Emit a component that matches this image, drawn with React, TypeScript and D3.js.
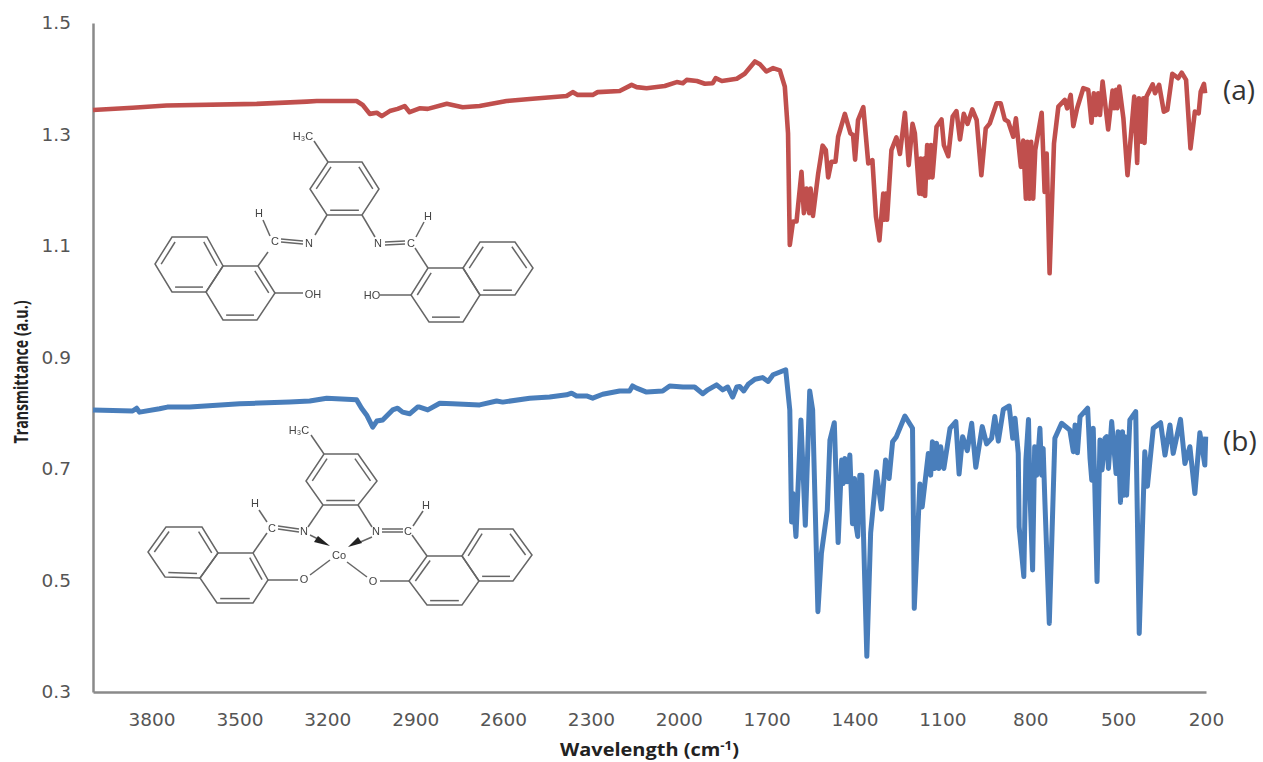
import { useEffect, useRef } from "react";
import * as d3 from "d3";

type Pt = [number, number];

const xTicks = [3800, 3500, 3200, 2900, 2600, 2300, 2000, 1700, 1400, 1100, 800, 500, 200];
const yTicks = [0.3, 0.5, 0.7, 0.9, 1.1, 1.3, 1.5];

// [wavenumber, transmittance]
const ligandSpectrum: Pt[] = [
  [4000, 1.344], [3865, 1.348], [3749, 1.352], [3441, 1.355], [3270, 1.359], [3236, 1.36], [3100, 1.36], [3079, 1.353],
  [3055, 1.337], [3031, 1.339], [3014, 1.333], [2987, 1.342], [2960, 1.346], [2936, 1.351], [2919, 1.34], [2885, 1.347],
  [2857, 1.346], [2792, 1.355], [2738, 1.349], [2680, 1.351], [2588, 1.36], [2499, 1.364], [2383, 1.369], [2362, 1.376],
  [2345, 1.371], [2294, 1.371], [2277, 1.376], [2202, 1.378], [2161, 1.389], [2144, 1.385], [2110, 1.383], [2048, 1.387],
  [2007, 1.394], [1986, 1.392], [1973, 1.398], [1938, 1.396], [1911, 1.391], [1884, 1.392], [1874, 1.401], [1853, 1.396],
  [1802, 1.4], [1775, 1.409], [1740, 1.431], [1723, 1.426],
  [1701, 1.413], [1678, 1.419], [1655, 1.415], [1638, 1.386], [1627, 1.302], [1621, 1.102], [1610, 1.144], [1598, 1.144],
  [1581, 1.233], [1573, 1.159], [1564, 1.203], [1555, 1.159], [1550, 1.203], [1542, 1.154], [1524, 1.23], [1509, 1.28], [1498, 1.272], [1490, 1.223],
  [1479, 1.251], [1465, 1.251], [1456, 1.296], [1433, 1.337], [1414, 1.302], [1405, 1.299], [1398, 1.255], [1388, 1.326],
  [1370, 1.349], [1353, 1.248], [1339, 1.254], [1327, 1.153], [1315, 1.11], [1302, 1.194], [1298, 1.147], [1293, 1.194], [1289, 1.147],
  [1274, 1.272], [1257, 1.295], [1245, 1.265], [1228, 1.339], [1215, 1.245], [1202, 1.319], [1194, 1.302], [1179, 1.194],
  [1174, 1.257], [1168, 1.193], [1162, 1.257], [1159, 1.19], [1152, 1.281], [1145, 1.223], [1139, 1.281], [1134, 1.223], [1120, 1.314], [1103, 1.327], [1095, 1.281], [1080, 1.261],
  [1065, 1.332], [1052, 1.342], [1040, 1.291], [1027, 1.337], [1014, 1.319], [998, 1.345], [983, 1.326], [967, 1.227],
  [952, 1.311], [938, 1.32], [915, 1.356], [901, 1.356], [887, 1.327], [875, 1.323], [858, 1.296], [849, 1.329],
  [832, 1.242], [824, 1.289], [815, 1.185], [810, 1.287], [803, 1.185], [797, 1.287], [790, 1.185], [783, 1.272], [761, 1.339], [751, 1.197], [744, 1.266],
  [734, 1.051], [719, 1.284], [704, 1.35], [682, 1.362], [674, 1.347], [662, 1.371], [653, 1.315], [640, 1.347],
  [619, 1.383], [602, 1.38], [591, 1.321], [583, 1.374], [576, 1.335], [568, 1.374], [562, 1.335], [553, 1.395], [534, 1.309], [519, 1.379],
  [514, 1.347], [507, 1.38], [503, 1.347], [496, 1.386], [482, 1.329], [468, 1.227], [445, 1.368], [435, 1.249], [429, 1.365], [420, 1.287], [414, 1.365], [410, 1.285],
  [403, 1.368], [382, 1.39], [374, 1.374], [360, 1.389], [344, 1.341], [332, 1.344], [315, 1.409], [295, 1.401],
  [283, 1.411], [268, 1.398], [253, 1.275], [238, 1.341], [225, 1.338], [218, 1.377], [207, 1.391], [203, 1.374],
];

const complexSpectrum: Pt[] = [
  [4000, 0.806], [3865, 0.804], [3851, 0.809], [3841, 0.802], [3773, 0.808], [3746, 0.811], [3670, 0.811], [3499, 0.817],
  [3329, 0.82], [3260, 0.822], [3202, 0.827], [3100, 0.824], [3083, 0.809], [3066, 0.797], [3045, 0.775], [3031, 0.786],
  [3011, 0.788], [2977, 0.806], [2960, 0.809], [2943, 0.802], [2919, 0.799], [2892, 0.811], [2885, 0.811], [2857, 0.806],
  [2816, 0.818], [2772, 0.817], [2680, 0.815], [2622, 0.822], [2601, 0.82], [2509, 0.827], [2441, 0.829], [2383, 0.833],
  [2366, 0.836], [2349, 0.831], [2315, 0.831], [2294, 0.827], [2260, 0.834], [2202, 0.84], [2168, 0.84], [2158, 0.849],
  [2144, 0.845], [2110, 0.838], [2055, 0.84], [2031, 0.849], [1986, 0.847], [1946, 0.847], [1918, 0.835], [1901, 0.842],
  [1871, 0.851], [1850, 0.842], [1833, 0.847], [1816, 0.829], [1802, 0.847], [1792, 0.848], [1778, 0.84], [1763, 0.852], [1740, 0.861], [1714, 0.864], [1695, 0.857], [1678, 0.869],
  [1635, 0.878], [1621, 0.806], [1615, 0.605], [1610, 0.656], [1600, 0.579], [1583, 0.788], [1568, 0.599], [1553, 0.84],
  [1543, 0.806], [1525, 0.444], [1513, 0.549], [1493, 0.626], [1484, 0.752], [1469, 0.783], [1456, 0.568], [1444, 0.716],
  [1439, 0.674], [1433, 0.719], [1425, 0.677], [1416, 0.725], [1407, 0.602], [1400, 0.683], [1396, 0.602], [1389, 0.579], [1382, 0.689], [1375, 0.689], [1358, 0.364], [1345, 0.585],
  [1325, 0.695], [1308, 0.628], [1294, 0.716], [1282, 0.683], [1270, 0.749], [1257, 0.758], [1228, 0.795], [1202, 0.773],
  [1196, 0.45], [1177, 0.673], [1169, 0.632], [1148, 0.728], [1140, 0.689], [1134, 0.749], [1126, 0.701], [1120, 0.746], [1112, 0.701], [1106, 0.74],
  [1095, 0.701], [1074, 0.773], [1054, 0.785], [1043, 0.691], [1031, 0.758], [1015, 0.733], [1000, 0.782], [986, 0.703],
  [964, 0.776], [949, 0.745], [932, 0.755], [921, 0.794], [909, 0.75], [892, 0.807], [872, 0.813], [860, 0.755],
  [852, 0.791], [841, 0.728], [838, 0.596], [822, 0.507], [815, 0.716], [806, 0.789], [801, 0.656], [792, 0.519], [785, 0.74], [778, 0.689], [767, 0.773], [761, 0.689], [756, 0.737],
  [750, 0.641], [735, 0.423], [716, 0.755], [693, 0.782], [665, 0.77], [653, 0.731], [647, 0.779], [639, 0.729],
  [630, 0.794], [604, 0.809], [596, 0.719], [590, 0.68], [585, 0.773], [580, 0.677], [572, 0.498], [562, 0.752], [555, 0.698], [545, 0.755], [539, 0.758], [533, 0.701],
  [522, 0.785], [507, 0.692], [500, 0.767], [492, 0.64], [485, 0.767], [480, 0.653], [476, 0.758], [471, 0.653], [460, 0.788], [440, 0.803],
  [428, 0.405], [409, 0.731], [400, 0.669], [380, 0.773], [355, 0.783], [340, 0.725], [323, 0.779], [312, 0.728],
  [287, 0.789], [272, 0.71], [255, 0.74], [238, 0.656], [221, 0.765], [204, 0.707], [201, 0.758],
];

// inset structures, pixel positions of the two drawn molecules
const ligandRings: { pts: Pt[]; doubles: number[] }[] = [
  { pts: [[328, 162], [362, 162], [379, 189], [362, 215], [327, 215], [310, 189]], doubles: [1, 3, 5] },
  { pts: [[172, 237], [207, 237], [223, 266], [206, 292], [172, 292], [155, 264]], doubles: [1, 3, 5] },
  { pts: [[223, 266], [258, 266], [275, 293], [257, 320], [223, 320], [206, 292]], doubles: [1, 3] },
  { pts: [[428, 268], [463, 268], [480, 295], [463, 322], [429, 322], [411, 295]], doubles: [3, 5] },
  { pts: [[463, 268], [480, 242], [515, 242], [533, 268], [515, 295], [480, 295]], doubles: [0, 2, 4] },
];
const ligandBonds: [Pt, Pt][] = [
  [[328, 162], [314, 141]], [[327, 215], [315, 235]], [[362, 215], [375, 237]],
  [[268, 252], [258, 266]], [[415, 248], [428, 268]], [[275, 293], [303, 293]],
  [[380, 295], [411, 295]], [[263, 220], [270, 236]], [[424, 222], [416, 237]],
  [[281, 239], [303, 241]], [[281, 242], [303, 244]], [[385, 242], [405, 241]], [[385, 245], [405, 244]],
];
const ligandLabels: { text: string; at: Pt }[] = [
  { text: "H₃C", at: [303, 136] }, { text: "H", at: [259, 213] }, { text: "H", at: [428, 216] },
  { text: "C", at: [275, 241] }, { text: "N", at: [309, 243] }, { text: "N", at: [378, 243] },
  { text: "C", at: [411, 243] }, { text: "OH", at: [313, 294] }, { text: "HO", at: [372, 295] },
];

const complexRings: { pts: Pt[]; doubles: number[] }[] = [
  { pts: [[324, 454], [358, 454], [377, 481], [358, 505], [323, 505], [306, 481]], doubles: [1, 3, 5] },
  { pts: [[166, 527], [202, 527], [218, 553], [200, 578], [165, 577], [148, 552]], doubles: [1, 3, 5] },
  { pts: [[218, 553], [253, 553], [268, 580], [253, 603], [217, 603], [200, 578]], doubles: [1, 3] },
  { pts: [[427, 556], [462, 556], [479, 581], [462, 605], [427, 605], [409, 581]], doubles: [3, 5] },
  { pts: [[462, 556], [479, 529], [513, 529], [532, 555], [513, 581], [479, 581]], doubles: [0, 2, 4] },
];
const complexBonds: [Pt, Pt][] = [
  [[324, 454], [311, 435]], [[323, 505], [308, 527]], [[358, 505], [372, 527]],
  [[267, 533], [253, 553]], [[412, 535], [427, 556]], [[268, 580], [298, 580]],
  [[380, 581], [409, 581]], [[310, 575], [330, 560]], [[347, 562], [367, 577]],
  [[259, 510], [267, 522]], [[423, 511], [413, 526]],
  [[278, 526], [299, 529]], [[278, 529], [299, 532]], [[382, 529], [403, 529]], [[382, 532], [403, 532]],
  [[310, 535], [322, 541]], [[372, 537], [358, 543]],
];
const complexLabels: { text: string; at: Pt }[] = [
  { text: "H₃C", at: [299, 430] }, { text: "H", at: [255, 503] }, { text: "H", at: [426, 505] },
  { text: "C", at: [272, 528] }, { text: "N", at: [304, 531] }, { text: "N", at: [376, 531] },
  { text: "C", at: [408, 531] }, { text: "O", at: [304, 579] }, { text: "O", at: [373, 581] },
  { text: "Co", at: [339, 555] },
];
const complexWedges: Pt[][] = [
  [[330, 546], [318, 536], [314, 542]],
  [[348, 547], [358, 537], [362, 543]],
];

const width = 1263;
const height = 762;
const margin = { top: 23, right: 57, bottom: 70, left: 93 };
const font = "'Open Sans', sans-serif";
const tickFont = "'DejaVu Sans', sans-serif";

const pathOf = d3.line<Pt>();

const Molecule = ({ rings, bonds, labels, wedges = [] }: any) => (
  <g stroke="#666" strokeWidth={1.5} fill="none" filter="url(#soft)">
    {rings.map((r: any, i: number) => {
      const cx = d3.mean(r.pts as Pt[], (p) => p[0])!;
      const cy = d3.mean(r.pts as Pt[], (p) => p[1])!;
      const inner = (p: Pt): Pt => [cx + (p[0] - cx) * 0.82, cy + (p[1] - cy) * 0.82];
      return (
        <g key={i}>
          <path d={pathOf(r.pts) + "Z"} />
          {r.doubles.map((e: number) => (
            <path key={e} d={pathOf([inner(r.pts[e]), inner(r.pts[(e + 1) % 6])]) ?? ""} />
          ))}
        </g>
      );
    })}
    {bonds.map((b: [Pt, Pt], i: number) => (
      <path key={i} d={pathOf(b) ?? ""} />
    ))}
    {wedges.map((w: Pt[], i: number) => (
      <path key={i} d={pathOf(w) + "Z"} fill="#222" stroke="none" />
    ))}
    {labels.map((l: any, i: number) => (
      <text
        key={i}
        x={l.at[0]}
        y={l.at[1]}
        dy="0.35em"
        textAnchor="middle"
        fontFamily="'Liberation Sans', sans-serif"
        fontSize={11}
        fill="#444"
        stroke="none"
      >
        {l.text}
      </text>
    ))}
  </g>
);

const App = () => {
  const axisX = useRef<SVGGElement>(null);
  const axisY = useRef<SVGGElement>(null);

  const x = d3.scaleLinear().domain([4000, 200]).range([margin.left, width - margin.right]);
  const y = d3.scaleLinear().domain([0.3, 1.5]).range([height - margin.bottom, margin.top]);

  const line = d3
    .line<Pt>()
    .x((d) => x(d[0]))
    .y((d) => y(d[1]));

  useEffect(() => {
    const gx = d3
      .select(axisX.current!)
      .call(d3.axisBottom(x).tickValues(xTicks).tickSize(0).tickPadding(21).tickFormat(d3.format("d")) as any);
    const gy = d3
      .select(axisY.current!)
      .call(d3.axisLeft(y).tickValues(yTicks).tickSize(0).tickPadding(22).tickFormat(d3.format(".1f")) as any);
    for (const g of [gx, gy]) {
      g.selectAll("path").attr("stroke", "#8a8a8a").attr("stroke-width", 2.5);
      g.selectAll("text").attr("font-family", tickFont).attr("font-size", 18.5).attr("fill", "#555");
    }
  }, []);

  return (
    <svg
      width={width}
      height={height}
      style={{ position: "absolute", left: 0, top: 0, background: "#fff" }}
    >
      <defs>
        <filter id="soft">
          <feGaussianBlur stdDeviation="0.5" />
        </filter>
      </defs>
      <g ref={axisX} transform={`translate(0,${height - margin.bottom})`} />
      <g ref={axisY} transform={`translate(${margin.left},0)`} />

      <g filter="url(#soft)" fill="none" strokeLinejoin="round">
        <path d={line(ligandSpectrum) ?? ""} stroke="#c0504d" strokeWidth={4.6} />
        <path d={line(complexSpectrum) ?? ""} stroke="#4a7ebb" strokeWidth={5} />
      </g>

      <Molecule rings={ligandRings} bonds={ligandBonds} labels={ligandLabels} />
      <Molecule rings={complexRings} bonds={complexBonds} labels={complexLabels} wedges={complexWedges} />

      <text x={1223} y={100} fontFamily={font} fontSize={28} fill="#333">(a)</text>
      <text x={1223} y={451} fontFamily={font} fontSize={28} fill="#333">(b)</text>

      <text
        x={560}
        y={756}
        fontFamily={font}
        fontSize={18}
        fontWeight={700}
        fill="#222"
        textLength={179}
        lengthAdjust="spacingAndGlyphs"
      >
        Wavelength (cm<tspan dy={-6} fontSize={12}>-1</tspan><tspan dy={6}>)</tspan>
      </text>
      <text
        transform="translate(28,372) rotate(-90)"
        textAnchor="middle"
        fontFamily={font}
        fontSize={19}
        fontWeight={700}
        fill="#222"
        textLength={143}
        lengthAdjust="spacingAndGlyphs"
      >
        Transmittance (a.u.)
      </text>
    </svg>
  );
};

export default App;
